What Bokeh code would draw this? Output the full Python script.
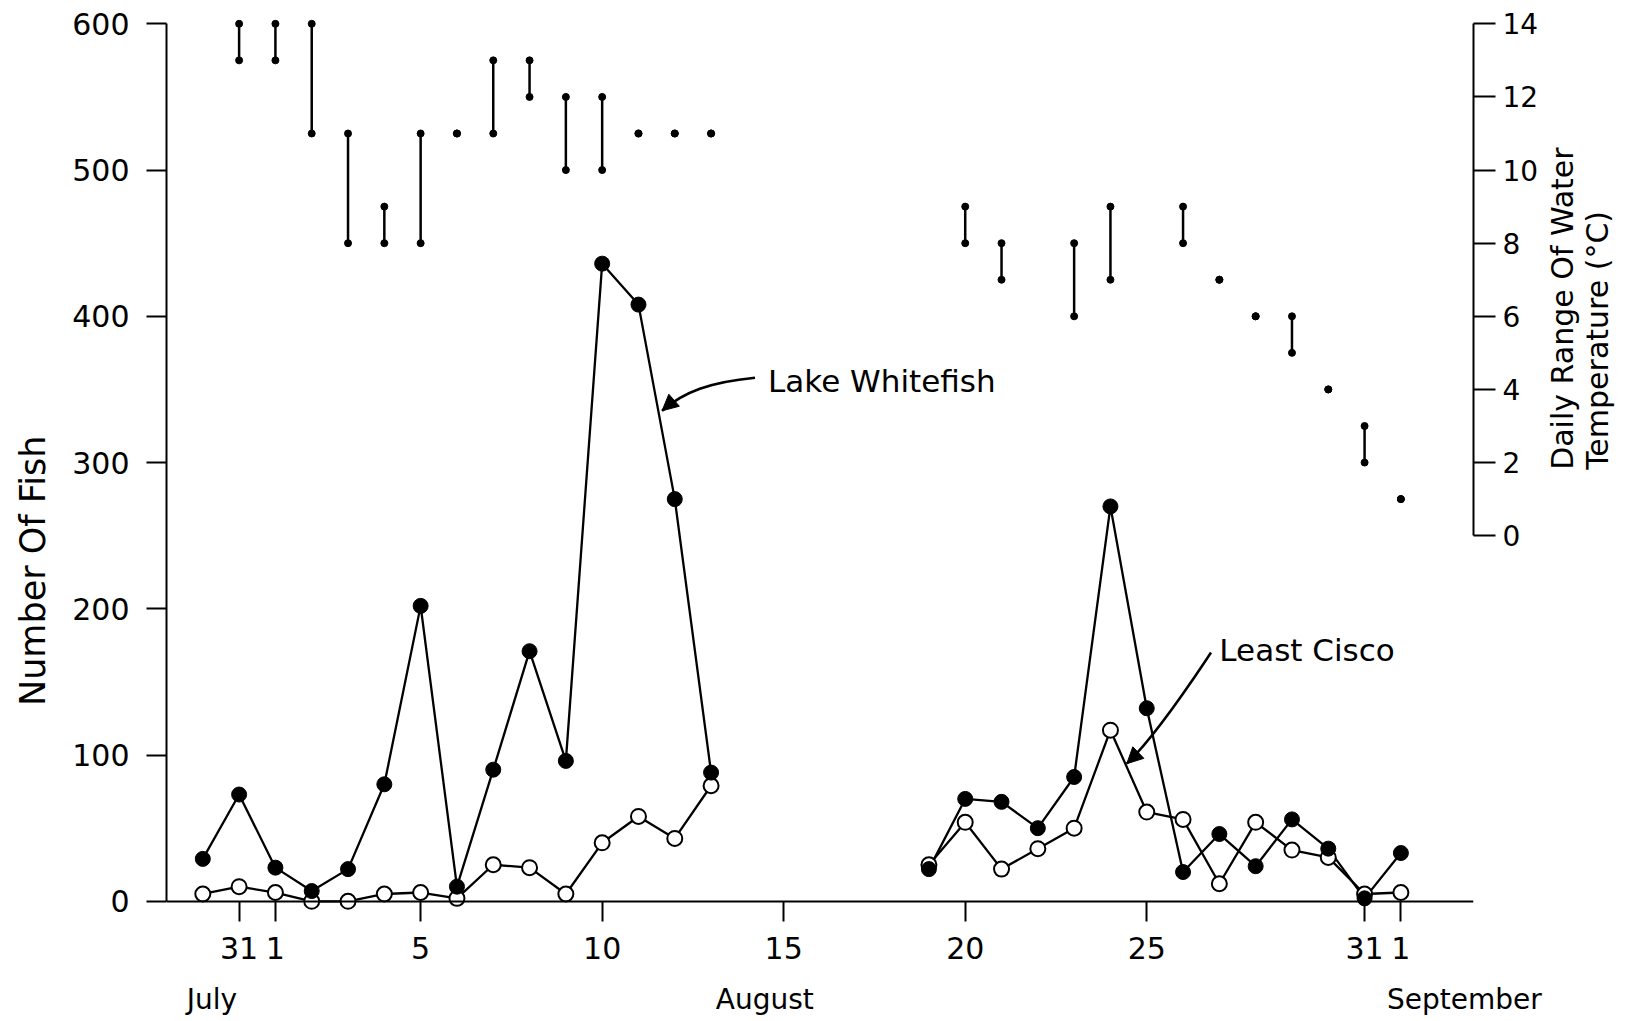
import math
from bokeh.plotting import figure
from bokeh.models import (Range1d, LinearAxis, FixedTicker, Label, Arrow, NormalHead)
from bokeh.embed import file_html
from bokeh.resources import INLINE

NAN = float("nan")

# ---- data (x = day of August; July 31 = 0, July 30 = -1, Sept 1 = 32) ----
days = list(range(-1, 33))
whitefish = [29, 73, 23, 7, 22, 80, 202, 10, 90, 171, 96, 436, 408, 275, 88,
             NAN, NAN, NAN, NAN, NAN,
             22, 70, 68, 50, 85, 270, 132, 20, 46, 24, 56, 36, 2, 33]
cisco = [5, 10, 6, 0, 0, 5, 6, 2, 25, 23, 5, 40, 58, 43, 79,
         NAN, NAN, NAN, NAN, NAN,
         25, 54, 22, 36, 50, 117, 61, 56, 12, 54, 35, 30, 5, 6]

temp_days = [0, 1, 2, 3, 4, 5, 6, 7, 8, 9, 10, 11, 12, 13,
             20, 21, 23, 24, 26, 27, 28, 29, 30, 31, 32]
temp_lo = [13, 13, 11, 8, 8, 8, 11, 11, 12, 10, 10, 11, 11, 11,
           8, 7, 6, 7, 8, 7, 6, 5, 4, 2, 1]
temp_hi = [14, 14, 14, 11, 9, 11, 11, 13, 13, 12, 12, 11, 11, 11,
           9, 8, 8, 9, 9, 7, 6, 6, 4, 3, 1]

x_ticks = [0, 1, 5, 10, 15, 20, 25, 31, 32]
x_tick_labels = ["31", "1", "5", "10", "15", "20", "25", "31", "1"]
fish_ticks = [0, 100, 200, 300, 400, 500, 600]
temp_ticks = [0, 2, 4, 6, 8, 10, 12, 14]

months = ["July", "August", "September"]
month_pos = [-0.75, 14.48, 33.75]

left_title = "Number Of Fish"
left_title_pos = 226
right_title = ["Daily Range Of Water", "Temperature (°C)"]
right_title_pos = [1.8, 1.8]

FONT = "DejaVu Sans"

p = figure(width=1635, height=1021,
           x_range=Range1d(-2, 34), y_range=Range1d(-14.5, 605),
           output_backend="svg", toolbar_location=None,
           x_axis_type=None, y_axis_type=None,
           min_border_left=166, min_border_right=161,
           min_border_top=16, min_border_bottom=99)
p.outline_line_color = None
p.background_fill_color = "white"
p.border_fill_color = "white"
p.extra_y_ranges = {"temp": Range1d((-14.5 - 250) / 25.0, (605 - 250) / 25.0)}


def style_axis(ax, tick_out, standoff, size="30px", line=True):
    ax.axis_line_color = "black" if line else None
    ax.axis_line_width = 2
    ax.major_tick_line_color = "black" if line else None
    ax.major_tick_line_width = 2
    ax.major_tick_in = 0
    ax.major_tick_out = tick_out
    ax.minor_tick_line_color = None
    ax.major_label_text_font = FONT
    ax.major_label_text_font_size = size
    ax.major_label_text_color = "black"
    ax.major_label_standoff = standoff


def label_axis(ticks, labels, **kw):
    return LinearAxis(ticker=FixedTicker(ticks=ticks),
                      major_label_overrides={t: l for t, l in zip(ticks, labels)}, **kw)


# horizontal zero line with downward ticks (kept inside the frame)
zero_axis = LinearAxis(ticker=FixedTicker(ticks=x_ticks), fixed_location=0)
style_axis(zero_axis, 0, 0, size="0px")
zero_axis.major_tick_in = 20
zero_axis.major_label_overrides = {t: "" for t in x_ticks}
p.add_layout(zero_axis, "above")

# day numbers
day_axis = label_axis(x_ticks, x_tick_labels)
style_axis(day_axis, 0, 14, line=False)
p.add_layout(day_axis, "below")

# month names
month_axis = label_axis(month_pos, months)
style_axis(month_axis, 0, 21, size="28px", line=False)
p.add_layout(month_axis, "below")

# left axis
yaxis = LinearAxis(ticker=FixedTicker(ticks=fish_ticks), bounds=(0, 600))
style_axis(yaxis, 20, 17)
p.add_layout(yaxis, "left")

ytitle = label_axis([left_title_pos], [left_title])
style_axis(ytitle, 0, 16, size="35px", line=False)
ytitle.major_label_orientation = "vertical"
p.add_layout(ytitle, "left")

# right axis
raxis = LinearAxis(y_range_name="temp", ticker=FixedTicker(ticks=temp_ticks),
                   bounds=(0, 14))
style_axis(raxis, 22, 7, size="28px")
p.add_layout(raxis, "right")

for txt, pos, so in zip(right_title, right_title_pos, [21, -3]):
    ax = label_axis([pos], [txt], y_range_name="temp")
    style_axis(ax, 0, so, size="30px", line=False)
    ax.major_label_orientation = math.pi / 2
    p.add_layout(ax, "right")

# ---- temperature ranges ----
p.segment(x0=temp_days, y0=temp_lo, x1=temp_days, y1=temp_hi,
          y_range_name="temp", line_color="black", line_width=2.5)
p.scatter(temp_days, temp_lo, y_range_name="temp", marker="circle", size=7,
          fill_color="black", line_color="black")
p.scatter(temp_days, temp_hi, y_range_name="temp", marker="circle", size=7,
          fill_color="black", line_color="black")

# ---- fish series ----
p.line(days, whitefish, line_color="black", line_width=2.3)
p.line(days, cisco, line_color="black", line_width=2.3)
p.scatter(days, cisco, marker="circle", size=15, fill_color="white",
          line_color="black", line_width=2)
p.scatter(days, whitefish, marker="circle", size=15, fill_color="black",
          line_color="black", line_width=1)

# ---- annotations ----
wf_label = dict(x=14.57, y=356.0)
wf_curve = dict(x0=14.21, y0=358.0, cx0=12.97, cy0=355.0, cx1=12.25, cy1=348.5,
                x1=11.65, y1=335.4)
lc_label = dict(x=27.0, y=172.0)
lc_curve = dict(x0=26.77, y0=170.1, cx0=26.40, cy0=156.4, cx1=25.30, cy1=114.4,
                x1=24.45, y1=94.1)

for lab, txt, cur in [(wf_label, "Lake Whitefish", wf_curve),
                      (lc_label, "Least Cisco", lc_curve)]:
    p.add_layout(Label(x=lab["x"], y=lab["y"], text=txt, text_font=FONT,
                       text_font_size="31px", text_align="left",
                       text_baseline="middle", text_color="black"))
    p.bezier(x0=[cur["x0"]], y0=[cur["y0"]], x1=[cur["x1"]], y1=[cur["y1"]],
             cx0=[cur["cx0"]], cy0=[cur["cy0"]], cx1=[cur["cx1"]], cy1=[cur["cy1"]],
             line_color="black", line_width=2.5)
    xs = cur["cx1"] + 0.7 * (cur["x1"] - cur["cx1"])
    ys = cur["cy1"] + 0.7 * (cur["y1"] - cur["cy1"])
    p.add_layout(Arrow(end=NormalHead(size=16, fill_color="black",
                                      line_color="black", line_width=1),
                       x_start=xs, y_start=ys, x_end=cur["x1"], y_end=cur["y1"],
                       line_color="black", line_width=2.5))

open("out.html", "w").write(file_html(p, INLINE))
